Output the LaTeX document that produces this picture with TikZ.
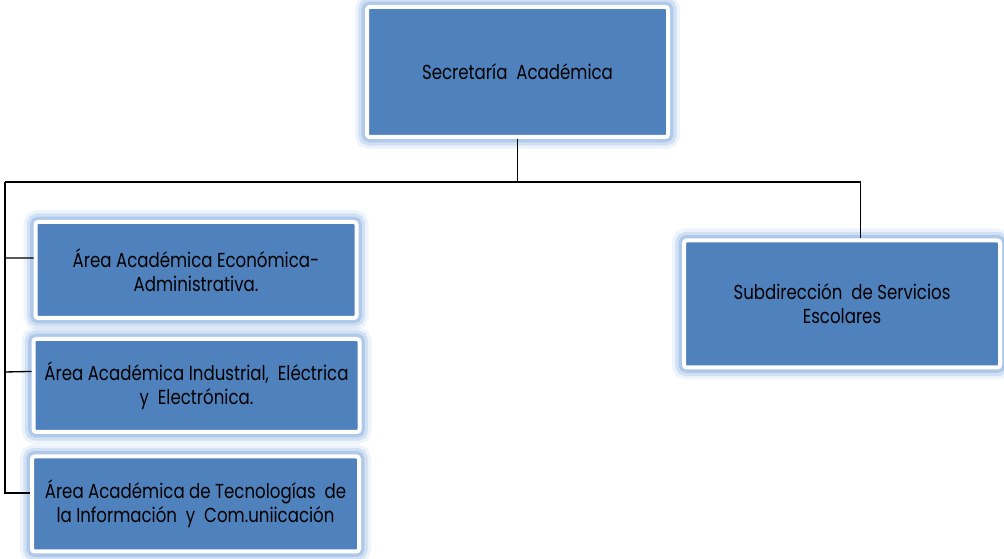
\documentclass[tikz,border=0pt]{standalone}
\usepackage{fontspec}
\setmainfont{Poppins}[FakeStretch=0.82]
\usetikzlibrary{calc}
\definecolor{azul}{RGB}{79,129,189}
\definecolor{halo}{RGB}{141,179,226}

\begin{document}
\begin{tikzpicture}[x=0.75pt,y=-0.75pt,
  caja/.style={draw=white, line width=3pt, fill=azul, rounded corners=2pt,
    preaction={draw=halo, line width=18pt, draw opacity=0.15},
    preaction={draw=halo, line width=13pt, draw opacity=0.3},
    preaction={draw=halo, line width=8pt, draw opacity=0.5},
    align=center, inner sep=0pt, text=black,
    font=\fontsize{15.2}{18}\selectfont},
  linea/.style={line width=1pt, black}]
\useasboundingbox (0,0) rectangle (1004,559);

% jefatura
\node[caja, minimum width=225.75pt, minimum height=97.5pt] (secre) at (517.5,72) {Secretaría\ \ Académica};

% areas academicas
\node[caja, minimum width=240.75pt, minimum height=72pt] (econ) at (196,270) {Área Académica Económica-\\Administrativa.};
\node[caja, minimum width=244.5pt, minimum height=69.75pt] (indus) at (196.5,385.5) {Área Académica Industrial,\ \ Eléctrica\\y\ \ Electrónica.};
\node[caja, minimum width=245.25pt, minimum height=71.25pt] (tics) at (195.5,504) {Área Académica de Tecnologías\ \ de\\la Información\ \ y\ \ Com.uniicación};

% subdireccion
\node[caja, minimum width=237pt, minimum height=95.25pt] (servs) at (842,304) {Subdirección\ \ de Servicios\\Escolares};

% conectores
\coordinate (bus) at (secre.south |- 0,182);
\coordinate (izq) at (5,182);
\coordinate (der) at ($(servs.north west)!0.557!(servs.north east)$);
\draw[linea] (secre.south) -- (bus);
\draw[linea] (izq) -- (bus) -- (der |- bus) -- (der);
\draw[linea] (izq) |- ($(tics.north west)!0.39!(tics.south west)$);
\draw[linea] (izq |- 0,258) -- ($(econ.north west)!0.38!(econ.south west)$);
\draw[linea] (izq |- 0,372) -- ($(indus.north west)!0.355!(indus.south west)$);
\end{tikzpicture}
\end{document}
